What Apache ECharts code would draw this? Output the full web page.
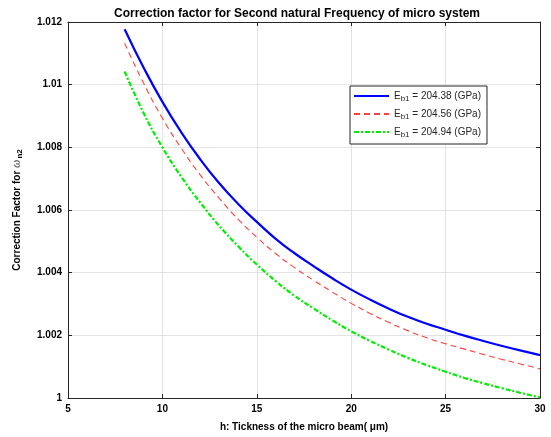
<!DOCTYPE html>
<html>
<head>
<meta charset="utf-8">
<script src="https://cdn.jsdelivr.net/npm/echarts@6/dist/echarts.min.js"></script>
<style>html,body{margin:0;padding:0;background:#fff}#c{width:551px;height:437px}</style>
</head>
<body>
<div id="c"></div>
<script>
const thickness = [8,9,10,11,12,13,14,15,16,17,18,19,20,21,22,23,24,25,26,27,28,29,30];
const cf_20438 = [1.01177,1.01055,1.00945,1.00848,1.00762,1.00686,1.00620,1.00562,1.00508,1.00462,1.00421,1.00382,1.00346,1.00314,1.00285,1.00259,1.00237,1.00218,1.00199,1.00182,1.00166,1.00151,1.00137];
const cf_20456 = [1.01132,1.01005,1.00893,1.00797,1.00712,1.00638,1.00571,1.00513,1.00461,1.00416,1.00376,1.00338,1.00302,1.00270,1.00241,1.00215,1.00192,1.00173,1.00156,1.00139,1.00123,1.00108,1.00093];
const cf_20494 = [1.01042,1.00910,1.00800,1.00706,1.00624,1.00550,1.00485,1.00426,1.00373,1.00326,1.00286,1.00248,1.00213,1.00182,1.00154,1.00128,1.00105,1.00084,1.00064,1.00047,1.00031,1.00016,1.00002];
const moduli = ['204.38','204.56','204.94'];
const yTicks = [1,1.002,1.004,1.006,1.008,1.01,1.012];
const xTicks = [5,10,15,20,25,30];

const FONT = '"Liberation Sans", Arial, Helvetica, sans-serif';
const AX = '#262626';
const names = moduli.map(m => 'E_b1 = ' + m + ' (GPa)');
const pair = arr => thickness.map((x,i) => [x, arr[i]]);

const chart = echarts.init(document.getElementById('c'), null, {renderer:'canvas'});
const axCommon = {
  axisLine:{show:true, lineStyle:{color:AX, width:1}},
  axisTick:{show:true, inside:true, length:4, lineStyle:{color:AX}},
};
chart.setOption({
  animation:false,
  backgroundColor:'#fff',
  title:{
    text:'Correction factor for Second natural Frequency of micro system',
    left:292, top:3, textAlign:'center',
    textStyle:{fontFamily:FONT, fontSize:12, fontWeight:'bold', color:'#000'}
  },
  grid:{left:68, right:11, top:22, bottom:37, containLabel:false},
  legend:{
    orient:'vertical', left:350, top:86,
    backgroundColor:'#fff', borderColor:AX, borderWidth:1, borderRadius:0,
    padding:[5,6,5,3], itemGap:6, itemWidth:35, itemHeight:12,
    itemStyle:{opacity:0},
    data: names,
    formatter: n => { const m = n.slice(7, 13); return '{a|E}{s|b1}{a| = ' + m + ' (GPa)}'; },
    textStyle:{fontFamily:FONT, fontSize:10, color:AX,
      rich:{a:{fontFamily:FONT, fontSize:10, color:AX}, s:{fontFamily:FONT, fontSize:8, color:AX, verticalAlign:'bottom', padding:[6,0,0,0]}}}
  },
  xAxis:[{
    type:'value', min:5, max:30, interval:5,
    name:'h: Tickness of the micro beam( μm)', nameLocation:'middle', nameGap:24,
    nameTextStyle:{fontFamily:FONT, fontSize:10, fontWeight:'bold', color:'#000'},
    axisLabel:{fontFamily:FONT, fontSize:10, fontWeight:'bold', color:'#000', margin:6,
      formatter: v => xTicks.includes(v) ? String(v) : ''},
    splitLine:{show:true, lineStyle:{color:'#e3e3e3', width:1}},
    ...axCommon
  },{
    type:'value', min:5, max:30, interval:5, position:'top',
    axisLabel:{show:false}, splitLine:{show:false}, ...axCommon
  }],
  yAxis:[{
    type:'value', min:1, max:1.012, interval:0.002,
    name:'{a|Correction Factor for }{w|ω}{s|n2}', nameLocation:'middle', nameGap:44, nameRotate:90,
    nameTextStyle:{fontFamily:FONT, fontSize:10, fontWeight:'bold', color:'#000',
      rich:{a:{fontFamily:FONT, fontSize:10, fontWeight:'bold', color:'#000'},
            w:{fontFamily:FONT, fontSize:10, fontStyle:'italic', color:'#777'},
            s:{fontFamily:FONT, fontSize:8, fontWeight:'bold', color:'#000', verticalAlign:'bottom', padding:[5,0,0,1]}}},
    axisLabel:{fontFamily:FONT, fontSize:10, fontWeight:'bold', color:'#000', margin:6,
      formatter: v => { const t = yTicks.find(k => Math.abs(k - v) < 1e-9); return t === undefined ? '' : String(t); }},
    splitLine:{show:true, lineStyle:{color:'#e3e3e3', width:1}},
    ...axCommon
  },{
    type:'value', min:1, max:1.012, interval:0.002, position:'right',
    axisLabel:{show:false}, splitLine:{show:false}, ...axCommon
  }],
  series:[
    {name:names[0], type:'line', smooth:true, symbol:'none', data:pair(cf_20438),
     lineStyle:{color:'#0000ff', width:2.2, type:'solid'}, itemStyle:{color:'#0000ff'}, z:3},
    {name:names[1], type:'line', smooth:true, symbol:'none', data:pair(cf_20456),
     lineStyle:{color:'#ff4040', width:1.1, type:[6,4]}, itemStyle:{color:'#ff4040'}, z:2},
    {name:names[2], type:'line', smooth:true, symbol:'none', data:pair(cf_20494),
     lineStyle:{color:'#00ee00', width:2.2, type:[5,2,2,2]}, itemStyle:{color:'#00ee00'}, z:1}
  ]
});
</script>
</body>
</html>
